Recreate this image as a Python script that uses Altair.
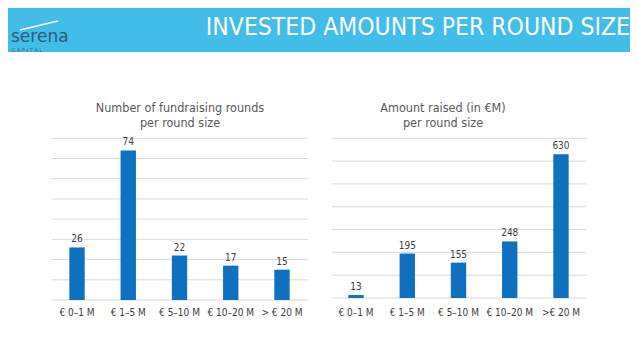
import altair as alt
import pandas as pd

# ---- data ----
categories_left = ["€ 0–1 M", "€ 1–5 M", "€ 5–10 M", "€ 10–20 M", "> € 20 M"]
rounds = [26, 74, 22, 17, 15]
categories_right = ["€ 0–1 M", "€ 1–5 M", "€ 5–10 M", "€ 10–20 M", ">€ 20 M"]
amounts = [13, 195, 155, 248, 630]
grid_left = [0, 10, 20, 30, 40, 50, 60, 70, 80]
grid_right = [0, 100, 200, 300, 400, 500, 600, 700]

title_main = "INVESTED AMOUNTS PER ROUND SIZE"
title_left = ["Number of fundraising rounds", "per round size"]
title_right = ["Amount raised (in €M)", "per round size"]

FONT = "Liberation Sans Narrow, DejaVu Sans Condensed, sans-serif"
BLUE_BANNER = "#42bde8"
BAR = "#1070c0"
TXT = "#404040"
GRID = "#d9d9d9"

one = pd.DataFrame({"d": [0]})


def panel(cats, vals, grid, xr, yr, ydom, gx, title, tx):
    df = pd.DataFrame({"cat": cats, "val": vals})
    gdf = pd.DataFrame({"val": grid})
    x = alt.X("cat:N", sort=cats, axis=None,
              scale=alt.Scale(range=xr, paddingInner=0.7, paddingOuter=0.35))
    y = alt.Y("val:Q", axis=None,
              scale=alt.Scale(domain=ydom, range=yr, nice=False, zero=True))
    gridl = alt.Chart(gdf).mark_rule(color=GRID, strokeWidth=1).encode(
        y=y, x=alt.value(gx[0]), x2=alt.value(gx[1]))
    bars = alt.Chart(df).mark_bar(color=BAR).encode(x=x, y=y)
    vlab = alt.Chart(df).mark_text(baseline="bottom", dy=-3, font=FONT,
                                   fontSize=10, color=TXT).encode(
        x=x, y=y, text="val:Q")
    clab = alt.Chart(df).mark_text(baseline="middle", font=FONT,
                                   fontSize=10, color=TXT).encode(
        x=x, y=alt.value(305), text="cat:N")
    t = alt.Chart(one).mark_text(align="center", baseline="middle", font=FONT,
                                 fontSize=12.5, color="#595959",
                                 lineHeight=15).encode(
        x=alt.value(tx), y=alt.value(100), text=alt.value(title))
    return alt.layer(gridl, bars, vlab, clab, t)


left = panel(categories_left, rounds, grid_left, [43.4, 299.6], [292, 130.3],
             [0, 80], [43.7, 300], title_left, 172)
right = panel(categories_right, amounts, grid_right, [322.4, 578.6], [290, 130.3],
              [0, 700], [324, 579], title_right, 435)

banner = alt.Chart(one).mark_rect(color=BLUE_BANNER).encode(
    x=alt.value(0), x2=alt.value(622), y=alt.value(0), y2=alt.value(44))
head = alt.Chart(one).mark_text(align="right", baseline="middle", font=FONT,
                                fontSize=24.5, color="white").encode(
    x=alt.value(622), y=alt.value(20), text=alt.value(title_main))
logo = alt.Chart(one).mark_text(align="left", baseline="alphabetic",
                                font="DejaVu Sans", fontSize=17,
                                color="#2e5b7a").encode(
    x=alt.value(3), y=alt.value(34), text=alt.value("serena"))
logo2 = alt.Chart(one).mark_text(align="left", baseline="middle",
                                 font="DejaVu Sans", fontSize=5,
                                 color="#2e5b7a").encode(
    x=alt.value(4), y=alt.value(42), text=alt.value("C   A   P   I   T   A   L"))
swoosh = alt.Chart(one).mark_rule(color="white", strokeWidth=1.5).encode(
    x=alt.value(12), y=alt.value(22), x2=alt.value(50), y2=alt.value(13))

chart = alt.layer(banner, head, logo, logo2, swoosh, left, right).resolve_scale(
    x="independent", y="independent"
).properties(
    width=622, height=343, padding=0,
    autosize=alt.AutoSizeParams(type="none")
).configure_view(stroke=None)

chart.save("out.html", embed_options={"renderer": "svg", "actions": False})
